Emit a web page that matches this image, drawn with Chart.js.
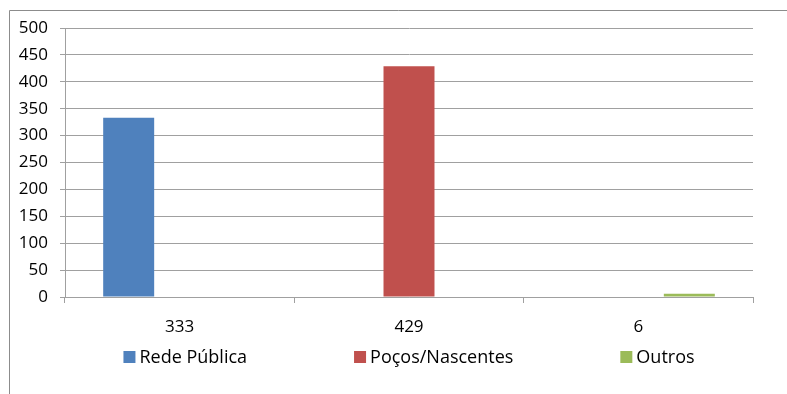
<!DOCTYPE html>
<html>
<head>
<meta charset="utf-8">
<script src="https://cdn.jsdelivr.net/npm/chart.js@4/dist/chart.umd.min.js"></script>
<style>
  html, body { margin: 0; padding: 0; background: #fff; }
  #wrap { width: 787px; height: 394px; position: relative; }
</style>
</head>
<body>
<div id="wrap"><canvas id="c"></canvas></div>
<script>
// Categories along the x axis
const categories = ['333', '429', '6'];
// Series: each source of water contributes one bar in its own category
const seriesNames = ['Rede Pública', 'Poços/Nascentes', 'Outros'];
const redePublica = [333, null, null];
const pocosNascentes = [null, 429, null];
const outros = [null, null, 6];
// Y axis range
const yMin = 0;
const yMax = 500;
const yStep = 50;

const colors = ['#4f81bd', '#c0504d', '#9bbb59'];
const FONT = '"Open Sans", "Noto Sans", "Liberation Sans", sans-serif';
const gridColor = '#a0a0a0';

// Outer frame around the chart (top and left edges)
const framePlugin = {
  id: 'frame',
  beforeDraw(chart) {
    const ctx = chart.ctx;
    ctx.save();
    ctx.strokeStyle = '#8c8c8c';
    ctx.lineWidth = 1;
    ctx.beginPath();
    ctx.moveTo(9.5, chart.height);
    ctx.lineTo(9.5, 10.5);
    ctx.lineTo(chart.width, 10.5);
    ctx.stroke();
    ctx.restore();
  }
};

// Legend row spread out under the axis labels
const spreadLegend = {
  id: 'spreadLegend',
  afterDraw(chart) {
    const ctx = chart.ctx;
    const box = 12, textGap = 4, itemGap = 107, y = 357;
    ctx.save();
    ctx.font = '18px ' + FONT;
    ctx.textBaseline = 'middle';
    const items = chart.data.datasets.map(ds => ({
      label: ds.label, color: ds.backgroundColor,
      w: box + textGap + ctx.measureText(ds.label).width
    }));
    const total = items.reduce((s, it) => s + it.w, 0) + itemGap * (items.length - 1);
    const area = chart.chartArea;
    let x = (area.left + area.right) / 2 - total / 2;
    items.forEach(it => {
      ctx.fillStyle = it.color;
      ctx.fillRect(x, y - box / 2, box, box);
      ctx.fillStyle = '#000';
      ctx.fillText(it.label, x + box + textGap, y + 1);
      x += it.w + itemGap;
    });
    ctx.restore();
  }
};

new Chart(document.getElementById('c'), {
  type: 'bar',
  data: {
    labels: categories,
    datasets: [
      { label: seriesNames[0], data: redePublica, backgroundColor: colors[0] },
      { label: seriesNames[1], data: pocosNascentes, backgroundColor: colors[1] },
      { label: seriesNames[2], data: outros, backgroundColor: colors[2] }
    ]
  },
  options: {
    responsive: true,
    maintainAspectRatio: false,
    animation: false,
    datasets: { bar: { barPercentage: 1, categoryPercentage: 0.667 } },
    layout: { padding: { top: 28, right: 34, left: 0, bottom: 0 } },
    plugins: {
      legend: { display: false },
      tooltip: { enabled: false }
    },
    scales: {
      x: {
        grid: { display: true, offset: true, drawOnChartArea: false, drawTicks: true, tickLength: 6, color: gridColor },
        border: { display: true, color: gridColor, width: 1 },
        ticks: { color: '#000', font: { family: FONT, size: 17 }, padding: 14 },
        afterFit(scale) { scale.height = 97; }
      },
      y: {
        min: yMin, max: yMax,
        grid: { color: gridColor, tickLength: 5, drawTicks: true },
        border: { display: true, color: gridColor, width: 1 },
        ticks: { stepSize: yStep, color: '#000', font: { family: FONT, size: 17 }, padding: 12 },
        afterFit(scale) { scale.width = 65; }
      }
    }
  },
  plugins: [framePlugin, spreadLegend]
});
</script>
</body>
</html>
